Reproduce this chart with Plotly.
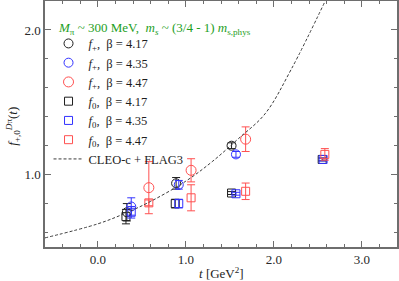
import plotly.graph_objects as go

# ---- data ----
t_fp_417 = [0.33, 0.89, 1.52]
f_fp_417 = [0.74, 0.94, 1.20]
e_fp_417 = [0.06, 0.04, 0.02]

t_fp_435 = [0.38, 0.92, 1.57]
f_fp_435 = [0.78, 0.93, 1.14]
e_fp_435 = [0.06, 0.03, 0.02]

t_fp_447 = [0.58, 1.06, 1.68]
f_fp_447 = [0.91, 1.03, 1.245]
e_fp_447 = [0.18, 0.08, 0.085]

t_f0_417 = [0.32, 0.88, 1.52, 2.55]
f_f0_417 = [0.71, 0.80, 0.873, 1.105]
e_f0_417 = [0.05, 0.03, 0.01, 0.01]

t_f0_435 = [0.38, 0.92, 1.57, 2.56]
f_f0_435 = [0.74, 0.80, 0.868, 1.105]
e_f0_435 = [0.04, 0.03, 0.01, 0.01]

t_f0_447 = [0.58, 1.06, 1.68, 2.58]
f_f0_447 = [0.805, 0.84, 0.885, 1.14]
e_f0_447 = [0.02, 0.09, 0.057, 0.04]

# CLEO-c + FLAG3 curve
t_curve = [-0.6, 0.0, 0.3, 0.6, 1.0, 1.3, 1.6, 1.9, 2.2, 2.6]
f_curve = [0.563, 0.66, 0.73, 0.815, 0.955, 1.09, 1.25, 1.42, 1.73, 2.22]

labels = ["<i>f</i><sub>+</sub>,  β = 4.17", "<i>f</i><sub>+</sub>,  β = 4.35",
          "<i>f</i><sub>+</sub>,  β = 4.47", "<i>f</i><sub>0</sub>,  β = 4.17",
          "<i>f</i><sub>0</sub>,  β = 4.35", "<i>f</i><sub>0</sub>,  β = 4.47"]
curve_label = "CLEO-c + FLAG3"

BLACK = "rgb(30,30,30)"
BLUE = "rgb(50,50,255)"
RED = "rgb(255,80,80)"
FONT = "Liberation Serif"

fig = go.Figure()

series = [
    (t_fp_417, f_fp_417, e_fp_417, BLACK, "circle-open", 9),
    (t_fp_435, f_fp_435, e_fp_435, BLUE, "circle-open", 9),
    (t_fp_447, f_fp_447, e_fp_447, RED, "circle-open", 10),
    (t_f0_417, f_f0_417, e_f0_417, BLACK, "square-open", 8),
    (t_f0_435, f_f0_435, e_f0_435, BLUE, "square-open", 8),
    (t_f0_447, f_f0_447, e_f0_447, RED, "square-open", 8),
]
for (tx, fy, ey, col, sym, sz), name in zip(series, labels):
    fig.add_trace(go.Scatter(
        x=tx, y=fy, mode="markers", name=name,
        marker=dict(symbol=sym, size=sz, color=col, line=dict(width=1, color=col)),
        error_y=dict(type="data", array=ey, visible=True, color=col, thickness=1, width=4),
    ))

fig.add_trace(go.Scatter(
    x=t_curve, y=f_curve, mode="lines", name=curve_label,
    line=dict(color="rgb(60,60,60)", width=1, dash="3px,2px", shape="spline"),
))

axis_common = dict(
    showline=True, linecolor="rgb(110,110,110)", linewidth=1.5, mirror="ticks",
    ticks="inside", ticklen=6, tickcolor="rgb(110,110,110)", tickwidth=1,
    showgrid=False, zeroline=False, automargin=False,
    tickfont=dict(family=FONT, size=13, color="rgb(40,40,40)"),
)

fig.update_xaxes(
    range=[-0.6, 3.4], tick0=0, dtick=1, tickformat=".1f",
    minor=dict(dtick=0.2, tick0=0, ticks="inside", ticklen=3, tickcolor="rgb(110,110,110)"),
    **axis_common,
)
fig.update_yaxes(
    range=[0.5, 2.2], tick0=0, dtick=1, tickformat=".1f",
    minor=dict(dtick=0.2, tick0=0, ticks="inside", ticklen=3, tickcolor="rgb(110,110,110)"),
    **axis_common,
)

# axis titles
fig.add_annotation(
    x=0.5, y=-0.105, xref="paper", yref="paper", xanchor="center", yanchor="middle",
    showarrow=False, text="<i>t</i> [GeV<sup>2</sup>]",
    font=dict(family=FONT, size=13, color="rgb(30,30,30)"),
)
fig.add_annotation(
    x=-0.09, y=0.49, xref="paper", yref="paper", xanchor="center", yanchor="middle",
    showarrow=False, textangle=-90,
    text="<i>f</i><sub>+,0</sub><sup><i>D</i>π</sup>(<i>t</i>)",
    font=dict(family=FONT, size=13, color="rgb(30,30,30)"),
)

fig.add_annotation(
    x=0.03, y=0.89, xref="paper", yref="paper", xanchor="left", yanchor="middle",
    showarrow=False,
    text="<i>M</i><sub>π</sub> ~ 300 MeV,  <i>m<sub>s</sub></i> ~ (3/4 - 1) <i>m</i><sub>s,phys</sub>",
    font=dict(family=FONT, size=13, color="rgb(30,160,30)"),
)

fig.update_layout(
    width=399, height=281,
    margin=dict(l=45, r=2, t=1, b=34),
    paper_bgcolor="white", plot_bgcolor="white",
    showlegend=True,
    legend=dict(x=0.01, y=0.887, xanchor="left", yanchor="top",
                bgcolor="rgba(0,0,0,0)", itemwidth=30,
                font=dict(family=FONT, size=12.5, color="rgb(30,30,30)"),
                tracegroupgap=0),
)

fig.write_html("out.html", config={"displayModeBar": False},
               post_script="document.body.style.margin='0px';")
